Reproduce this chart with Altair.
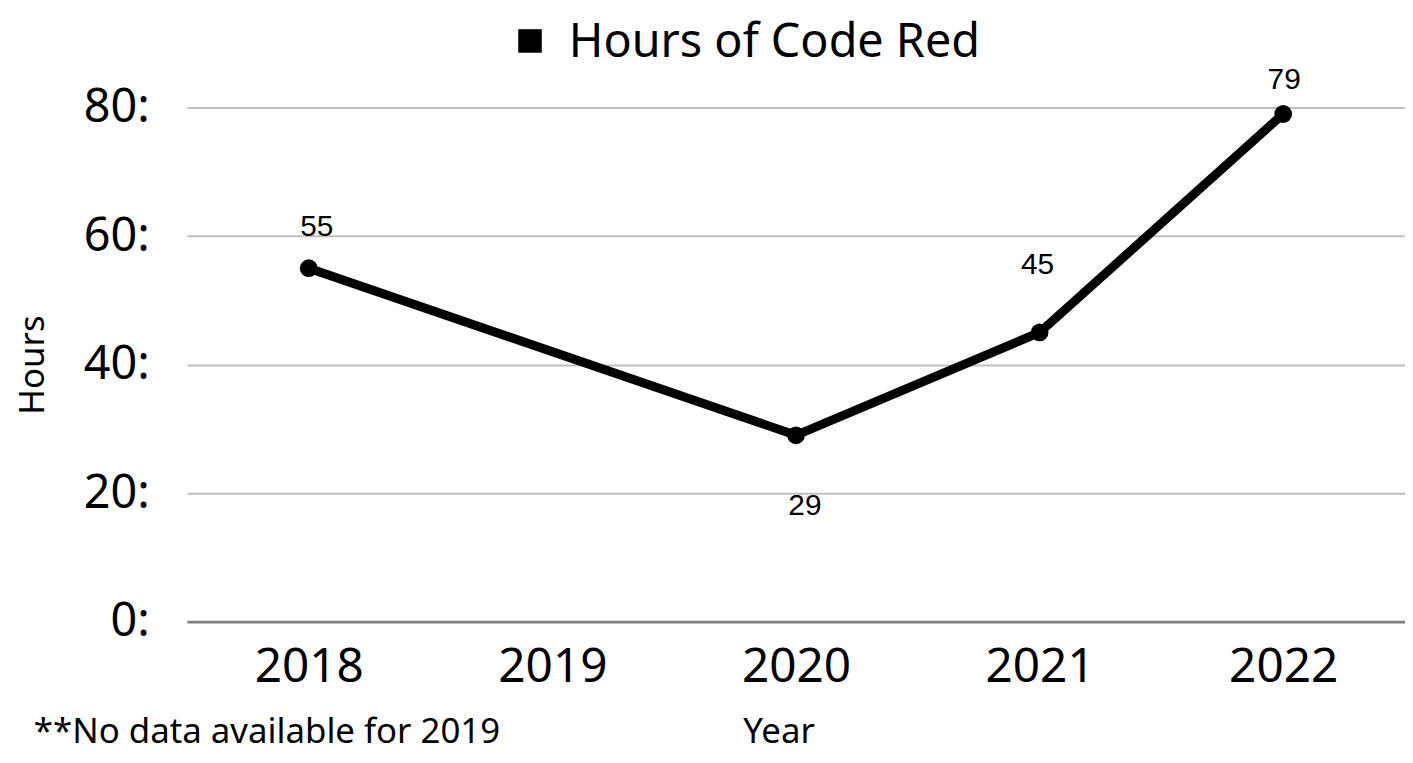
import altair as alt
import pandas as pd

years_all = ["2018", "2019", "2020", "2021", "2022"]
years = ["2018", "2020", "2021", "2022"]
hours = [55, 29, 45, 79]
series_name = "Hours of Code Red"
y_ticks = [0, 20, 40, 60, 80]
note = "**No data available for 2019"

df = pd.DataFrame({"year": years, "hours": hours})
note_df = pd.DataFrame({"note": [note]})
legend_df = pd.DataFrame({"series": [series_name]})

FONT = "Noto Sans"

x_enc = alt.X(
    "year:N",
    scale=alt.Scale(domain=years_all, paddingInner=0, paddingOuter=0),
    axis=alt.Axis(
        title="Year",
        titleFontSize=35,
        titleFont=FONT,
        titleFontWeight="normal",
        titleColor="black",
        titleX=595,
        titleY=122,
        titleBaseline="alphabetic",
        labelFontSize=48,
        labelFont=FONT,
        labelColor="black",
        labelPadding=22,
        labelAngle=0,
        ticks=False,
        domainColor="#7f7f7f",
        domainWidth=3,
        grid=False,
    ),
)
y_enc = alt.Y(
    "hours:Q",
    scale=alt.Scale(domain=[0, 80], nice=False, zero=True),
    axis=alt.Axis(
        title="Hours",
        titleFontSize=35,
        titleFont=FONT,
        titleFontWeight="normal",
        titleColor="black",
        titleX=-155,
        titleBaseline="middle",
        values=y_ticks,
        labelExpr="datum.label + ':'",
        labelFontSize=47,
        labelFont=FONT,
        labelColor="black",
        labelPadding=38,
        ticks=False,
        domain=False,
        grid=True,
        gridColor="#bfbfbf",
        gridWidth=2,
    ),
)

base = alt.Chart(df)

line = base.mark_line(color="black", strokeWidth=9).encode(x=x_enc, y=y_enc)

points = base.mark_point(
    filled=True, size=320, opacity=1, shape="circle", color="black"
).encode(x=x_enc, y=y_enc)

label_style = dict(fontSize=30, font="Liberation Sans", color="black")


def label_layer(yr, dx, dy):
    return base.transform_filter(alt.datum.year == yr).mark_text(
        dx=dx, dy=dy, **label_style
    ).encode(x=x_enc, y=y_enc, text=alt.Text("hours:Q"))


labels = alt.layer(
    label_layer("2018", 8, -41),
    label_layer("2020", 9, 71),
    label_layer("2021", -2, -68),
    label_layer("2022", 1, -34),
)

# series key drawn above the plot
legend_symbol = alt.Chart(legend_df).mark_point(
    shape="square", filled=True, size=560, color="black", opacity=1
).encode(x=alt.value(345), y=alt.value(-67))
legend_text = alt.Chart(legend_df).mark_text(
    align="left", baseline="middle", fontSize=47, font=FONT, color="black"
).encode(x=alt.value(384), y=alt.value(-65), text="series:N")

footnote = alt.Chart(note_df).mark_text(
    align="left", baseline="alphabetic", fontSize=35, font=FONT, color="black"
).encode(x=alt.value(-154), y=alt.value(639), text="note:N")

chart = (
    alt.layer(line, points, labels, legend_symbol, legend_text, footnote)
    .properties(
        width=1225,
        height=517,
        autosize=alt.AutoSizeParams(type="none"),
        padding={"left": 180, "top": 98, "right": 0, "bottom": 132},
        background="white",
    )
    .configure_view(stroke=None)
)

chart.save("out.html", embed_options={"renderer": "svg", "actions": False})
